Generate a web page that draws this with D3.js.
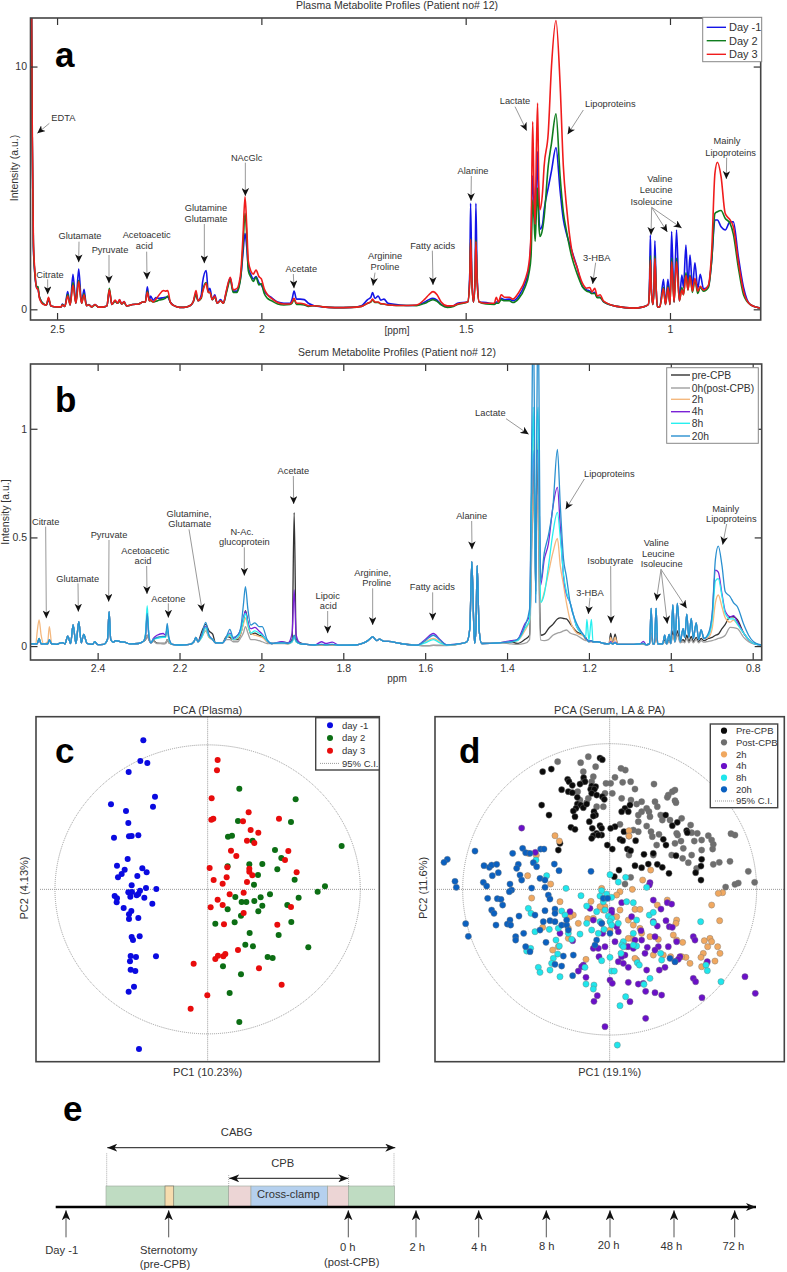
<!DOCTYPE html>
<html><head><meta charset="utf-8">
<script src="https://cdn.jsdelivr.net/npm/d3@7"></script>
<style>
html,body{margin:0;padding:0;background:#fff}
svg{display:block}
text{font-family:"Liberation Sans",Arial,sans-serif;fill:#333}
</style></head><body>
<svg id="fig" width="787" height="1272"></svg>
<script>
// ---------- Panel a: plasma spectrum (ppm, a.u.) ----------
const plasmaPpm=[2.572,2.5645,2.561,2.558,2.554,2.55,2.547,2.543,2.533,2.526,
2.521,2.515,2.5,2.49,2.487,2.481,2.474,2.468,2.461,2.454,
2.447,2.44,2.434,2.428,2.422,2.415,2.407,2.399,2.385,2.378,
2.372,2.366,2.358,2.352,2.347,2.342,2.336,2.33,2.315,2.3,
2.29,2.284,2.279,2.274,2.271,2.265,2.258,2.25,2.24,2.235,
2.229,2.223,2.215,2.2,2.19,2.175,2.167,2.16,2.155,2.147,
2.144,2.135,2.13,2.126,2.12,2.114,2.108,2.1,2.093,2.086,
2.076,2.069,2.06,2.055,2.05,2.045,2.04,2.036,2.032,2.025,
2.02,2.013,2.006,2,1.993,1.985,1.975,1.96,1.945,1.93,
1.925,1.92,1.914,1.905,1.895,1.885,1.87,1.85,1.82,1.78,
1.755,1.74,1.732,1.728,1.722,1.714,1.708,1.7,1.69,1.67,
1.64,1.62,1.6,1.59,1.58,1.57,1.56,1.545,1.53,1.52,
1.495,1.49,1.488,1.485,1.481,1.477,1.475,1.472,1.467,1.45,
1.43,1.425,1.42,1.413,1.405,1.393,1.385,1.37,1.355,1.345,
1.34,1.336,1.333,1.33,1.327,1.324,1.321,1.318,1.312,1.308,
1.298,1.29,1.279,1.269,1.261,1.253,1.241,1.228,1.214,1.204,
1.196,1.191,1.184,1.178,1.171,1.163,1.13,1.09,1.065,1.053,
1.05,1.048,1.046,1.042,1.039,1.037,1.034,1.031,1.025,1.016,
1.011,1.005,1,.996,.99,.984,.977,.971,.967,.961,
.956,.951,.945,.939,.932,.926,.918,.906,.898,.89,
.884,.875,.865,.853,.845,.833,.82,.804,.78];
const plasmaDayM1=[40,20,7.5,2.6,1.4,.9,.85,.5,.22,.18,
.4,.14,.1,.1,.22,.12,.73,.18,1.44,.25,
1.66,.25,.82,.15,.2,.1,.2,.09,.1,.14,
.75,.2,.35,.25,.38,.22,.32,.14,.2,.22,
.3,.3,.93,.35,.55,.38,.48,.45,.48,.5,
.5,.3,.16,.08,.08,.15,.3,.65,.35,.6,
1.1,1.6,.75,.87,.4,.6,.25,.4,.25,.7,
1.28,.75,.75,.95,1.4,2.3,3.13,2.6,1.75,1.4,
1.25,1.35,1.1,1,.75,.6,.48,.3,.25,.25,
.4,.75,.42,.42,.4,.25,.15,.1,.07,.08,
.15,.4,.5,.69,.45,.55,.38,.42,.25,.2,
.16,.17,.3,.4,.45,.38,.2,.1,.15,.25,
.3,1.5,4.37,1.5,.3,1.5,4.37,1.4,.3,.28,
.22,.3,.3,.45,.4,.42,.35,.55,1.05,1.7,
3,5.5,4.5,3.5,5,6.5,4,3.3,3.5,4.1,
5,5.7,6.66,4.9,3.7,3.1,2.45,1.76,.93,.8,
.75,.65,.7,.5,.5,.32,.12,.05,.1,.2,
1.2,3.06,1.2,.2,1,2.82,1,.1,.1,1.24,
.2,1.24,.2,3.2,.3,3.27,.35,1.41,.9,2.65,
.95,2.24,.9,1.92,.85,1.44,.85,.95,2,3.68,
3.68,3.4,3.27,3.6,3.6,2.2,.9,.2,.05];
const plasmaDay2=[40,20,7.5,2.7,1.4,.95,.93,.5,.22,.18,
.45,.14,.1,.1,.2,.12,.62,.18,1.1,.25,
1.2,.25,.65,.15,.18,.1,.18,.09,.1,.14,
.87,.2,.32,.25,.33,.22,.28,.14,.2,.22,
.3,.3,.75,.35,.35,.3,.33,.38,.42,.45,
.55,.3,.16,.08,.08,.15,.3,.6,.35,.45,
.75,1.1,.7,.7,.4,.5,.25,.35,.25,.65,
1.2,.7,.7,.9,1.4,2.6,3.96,3.1,1.6,1.3,
1.15,1.32,1,1.05,.65,.45,.35,.22,.18,.2,
.25,.4,.2,.2,.18,.12,.15,.1,.07,.08,
.12,.25,.3,.38,.28,.28,.22,.22,.18,.16,
.16,.15,.25,.33,.4,.33,.18,.08,.12,.2,
.3,1.2,2.9,1.2,.3,1.2,2.85,1.2,.3,.22,
.2,.25,.25,.4,.35,.35,.28,.45,.9,1.5,
2.2,4.5,3.8,2.8,4,5,3.5,3,3.3,3.8,
5.9,6.84,8.05,5.5,4,3.2,2.2,1.5,.93,.75,
.7,.65,.65,.48,.48,.32,.12,.05,.1,.2,
.9,2.2,.9,.2,.9,2.2,.9,.1,.1,.9,
.2,.95,.2,2.1,.3,2.1,.35,.9,.6,1.5,
.8,1.4,.7,1.2,.65,.9,.75,.9,2,3.95,
4.02,4.07,3.75,3.54,3.1,1.75,.6,.2,.05];
const plasmaDay3=[40,20,8,2.9,1.5,.85,.85,.45,.2,.18,
.5,.14,.1,.1,.18,.12,.55,.18,1,.25,
1.14,.25,.6,.15,.18,.1,.2,.09,.1,.14,
.8,.2,.38,.25,.4,.22,.32,.14,.2,.22,
.3,.3,.7,.35,.4,.3,.42,.6,.77,.75,
.77,.3,.16,.08,.08,.15,.3,.77,.35,.5,
.7,1.07,.7,.7,.4,.55,.25,.35,.25,.75,
1.32,.8,.85,1.05,1.6,3,4.64,3.5,2,1.55,
1.45,1.62,1.35,1.25,.85,.6,.45,.28,.22,.22,
.3,.45,.25,.25,.22,.15,.15,.1,.07,.08,
.12,.25,.32,.42,.3,.3,.24,.22,.18,.16,
.16,.18,.42,.6,.73,.6,.3,.14,.15,.22,
.3,1.2,2.88,1.2,.3,1.2,2.79,1.2,.3,.25,
.25,.5,.3,.6,.5,.5,.42,.7,1.2,1.9,
3.2,7.73,5,3.5,6.5,8.5,5,4.1,4.8,5.9,
7.25,10,11.9,9.3,5.9,4.2,2.5,1.76,1.07,.87,
.9,.72,.87,.55,.6,.35,.12,.05,.1,.2,
.9,2.03,.9,.2,.9,2.1,.9,.1,.1,.85,
.2,.9,.2,1.96,.3,1.96,.35,.8,.6,1.4,
.8,1.35,.75,1.28,.75,.95,.8,1,2.4,5.6,
6.06,5.47,3.96,3.68,3.4,2,.75,.2,.05];
const plasmaLabels=["Day -1","Day 2","Day 3"];
const plasmaColors=["#1414e6","#0f7d1e","#f01c1c"];

// ---------- Panel b: serum spectrum (ppm, a.u.) ----------
const serumPpm=[2.57,2.551,2.548,2.543,2.538,2.532,2.522,2.518,2.512,2.5,
2.494,2.486,2.48,2.473,2.466,2.46,2.453,2.446,2.44,2.434,
2.426,2.413,2.407,2.4,2.385,2.376,2.372,2.368,2.362,2.356,
2.345,2.335,2.32,2.3,2.288,2.283,2.279,2.275,2.27,2.264,
2.255,2.24,2.234,2.23,2.226,2.218,2.2,2.175,2.165,2.16,
2.155,2.146,2.136,2.128,2.119,2.112,2.095,2.085,2.077,2.069,
2.058,2.05,2.044,2.039,2.033,2.026,2.016,2.006,1.998,1.986,
1.975,1.95,1.935,1.925,1.92,1.915,1.905,1.89,1.87,1.853,
1.843,1.827,1.81,1.77,1.75,1.74,1.728,1.718,1.712,1.7,
1.69,1.66,1.62,1.6,1.58,1.564,1.548,1.51,1.498,1.491,
1.486,1.481,1.479,1.476,1.473,1.468,1.462,1.42,1.39,1.375,
1.357,1.345,1.34,1.336,1.333,1.33,1.327,1.324,1.321,1.318,
1.309,1.299,1.288,1.277,1.27,1.262,1.255,1.246,1.23,1.213,
1.208,1.205,1.2,1.194,1.19,1.18,1.163,1.151,1.147,1.142,
1.136,1.13,1.09,1.075,1.067,1.06,1.052,1.048,1.044,1.04,
1.036,1.032,1.02,1.015,1.01,1.004,1,.995,.99,.984,
.977,.97,.966,.961,.956,.95,.945,.938,.932,.926,
.919,.908,.899,.891,.884,.875,.867,.855,.847,.837,
.822,.81,.798,.78];
const serumPre=[.01,.01,.01,.035,.01,.01,.01,.028,.01,.008,
.012,.016,.01,.046,.012,.097,.012,.112,.015,.054,
.012,.008,.02,.007,.008,.03,.158,.03,.018,.025,
.02,.018,.01,.012,.022,.03,.05,.03,.015,.025,
.014,.012,.013,.03,.015,.008,.005,.008,.02,.04,
.02,.065,.1,.07,.055,.015,.015,.045,.04,.03,
.03,.06,.11,.163,.11,.055,.06,.05,.045,.02,
.012,.018,.015,.03,.614,.03,.015,.008,.005,.005,
.004,.005,.004,.005,.015,.025,.042,.025,.032,.022,
.022,.012,.004,.002,.003,.003,.003,.012,.02,.08,
.388,.08,.013,.08,.37,.07,.012,.015,.02,.012,
.03,.05,.5,.9,.6,.38,.7,.9,.3,.05,
.055,.08,.1,.125,.13,.127,.125,.104,.066,.05,
.04,.03,.025,.025,.02,.02,.012,.01,.058,.01,
.055,.008,.008,.01,.01,.006,.01,.06,.01,.01,
.06,.01,.01,.03,.01,.03,.012,.07,.02,.07,
.02,.03,.02,.05,.02,.045,.02,.04,.02,.035,
.025,.035,.04,.05,.055,.08,.1,.135,.135,.12,
.06,.03,.012,.005];
const serumPost=[.01,.01,.01,.03,.01,.01,.01,.025,.01,.008,
.012,.016,.01,.046,.012,.097,.012,.112,.015,.054,
.012,.008,.02,.007,.008,.03,.158,.03,.018,.025,
.02,.018,.01,.012,.022,.03,.05,.03,.015,.022,
.012,.012,.012,.03,.015,.008,.005,.008,.02,.04,
.02,.04,.07,.04,.03,.015,.015,.03,.03,.02,
.02,.04,.06,.09,.06,.03,.03,.025,.02,.012,
.012,.012,.01,.02,.04,.02,.01,.008,.005,.004,
.004,.004,.004,.005,.015,.025,.042,.025,.032,.022,
.022,.012,.004,.002,.003,.002,.002,.012,.02,.08,
.388,.08,.013,.08,.37,.07,.012,.015,.01,.008,
.012,.03,.4,.7,.55,.3,.6,.7,.2,.028,
.025,.03,.05,.06,.063,.07,.074,.06,.05,.03,
.025,.025,.02,.02,.02,.02,.012,.01,.015,.01,
.015,.008,.008,.01,.008,.006,.01,.06,.01,.01,
.06,.01,.01,.02,.01,.02,.012,.05,.02,.05,
.015,.02,.015,.035,.015,.03,.015,.03,.015,.025,
.018,.022,.025,.03,.035,.04,.05,.086,.085,.08,
.04,.02,.01,.005];
const serum2h=[.01,.01,.06,.12,.05,.01,.02,.09,.01,.008,
.012,.016,.01,.046,.012,.097,.012,.112,.015,.054,
.012,.008,.02,.007,.008,.03,.158,.03,.018,.025,
.02,.018,.01,.012,.022,.05,.14,.05,.015,.03,
.038,.045,.04,.075,.03,.008,.005,.008,.02,.04,
.02,.04,.08,.04,.028,.015,.015,.04,.05,.03,
.035,.06,.1,.13,.09,.06,.05,.045,.04,.02,
.012,.015,.01,.02,.04,.02,.01,.008,.005,.006,
.006,.006,.004,.005,.015,.025,.042,.025,.032,.022,
.022,.012,.004,.02,.035,.02,.005,.012,.02,.08,
.388,.08,.013,.08,.37,.07,.012,.015,.02,.025,
.07,.12,.6,.95,.7,.25,.8,.95,.5,.2,
.25,.335,.43,.495,.37,.28,.2,.12,.06,.045,
.03,.03,.02,.025,.02,.02,.012,.01,.04,.01,
.04,.008,.008,.01,.012,.006,.01,.174,.01,.01,
.174,.01,.01,.05,.01,.054,.012,.19,.02,.196,
.02,.08,.04,.147,.04,.127,.035,.107,.03,.074,
.035,.04,.08,.2,.235,.18,.13,.11,.12,.1,
.06,.03,.012,.005];
const serum4h=[.01,.01,.01,.03,.01,.01,.01,.028,.01,.008,
.012,.016,.01,.046,.012,.097,.012,.112,.015,.054,
.012,.008,.02,.007,.008,.03,.158,.03,.018,.025,
.02,.018,.01,.012,.022,.05,.15,.05,.015,.035,
.05,.058,.05,.08,.035,.008,.005,.008,.02,.04,
.02,.05,.09,.05,.03,.015,.015,.04,.06,.035,
.05,.08,.13,.16,.11,.08,.086,.07,.055,.025,
.012,.02,.015,.06,.258,.05,.012,.008,.005,.02,
.012,.018,.004,.005,.015,.025,.042,.025,.032,.022,
.022,.012,.004,.03,.058,.03,.006,.012,.02,.08,
.388,.08,.013,.08,.37,.07,.012,.015,.025,.03,
.1,.14,.7,.9,.7,.25,.9,.9,.6,.28,
.4,.47,.64,.73,.55,.32,.24,.2,.09,.05,
.035,.03,.025,.025,.02,.02,.012,.01,.02,.01,
.018,.008,.008,.01,.022,.006,.01,.174,.01,.01,
.174,.01,.01,.05,.01,.054,.012,.19,.02,.196,
.02,.08,.04,.147,.04,.127,.035,.107,.03,.074,
.035,.05,.14,.35,.34,.24,.16,.135,.14,.11,
.06,.03,.012,.005];
const serum8h=[.01,.01,.01,.035,.01,.01,.01,.028,.01,.008,
.012,.016,.01,.046,.012,.097,.012,.112,.015,.054,
.012,.008,.02,.007,.008,.03,.158,.03,.018,.025,
.02,.018,.01,.012,.022,.06,.186,.06,.015,.03,
.035,.04,.04,.09,.03,.008,.005,.008,.02,.04,
.02,.04,.085,.045,.03,.015,.015,.04,.055,.03,
.04,.07,.12,.15,.1,.06,.07,.06,.05,.025,
.012,.015,.012,.02,.04,.02,.01,.008,.005,.008,
.006,.008,.004,.005,.015,.025,.042,.025,.032,.022,
.022,.012,.004,.015,.03,.015,.005,.012,.02,.08,
.388,.08,.013,.08,.37,.07,.012,.015,.02,.025,
.08,.12,.7,1.1,.7,.24,1,1.1,.6,.2,
.24,.365,.52,.615,.5,.33,.25,.2,.09,.05,
.04,.123,.025,.123,.02,.02,.012,.01,.015,.01,
.015,.008,.008,.01,.012,.006,.01,.174,.01,.01,
.174,.01,.01,.05,.01,.054,.012,.19,.02,.196,
.02,.08,.04,.147,.04,.127,.035,.107,.03,.074,
.035,.05,.12,.3,.31,.23,.15,.125,.125,.1,
.06,.03,.012,.005];
const serum20h=[.01,.01,.01,.035,.01,.01,.01,.028,.01,.008,
.012,.016,.01,.046,.012,.097,.012,.112,.015,.054,
.012,.008,.02,.007,.008,.03,.158,.03,.018,.025,
.02,.018,.01,.012,.022,.05,.15,.05,.015,.03,
.04,.045,.045,.104,.04,.008,.005,.008,.02,.04,
.02,.05,.109,.05,.03,.015,.015,.045,.077,.04,
.05,.09,.19,.273,.17,.097,.107,.09,.09,.03,
.012,.015,.012,.025,.05,.025,.01,.008,.005,.008,
.006,.008,.004,.005,.015,.025,.042,.025,.032,.022,
.022,.012,.004,.025,.05,.028,.006,.012,.02,.08,
.388,.08,.013,.08,.37,.07,.012,.015,.02,.03,
.09,.17,.9,1.6,1,.2,1.1,1.6,.9,.3,
.43,.51,.64,.905,.65,.4,.32,.2,.104,.05,
.035,.03,.02,.025,.02,.02,.012,.01,.015,.01,
.015,.008,.008,.01,.012,.006,.01,.174,.01,.01,
.174,.01,.01,.05,.01,.054,.012,.19,.02,.196,
.02,.08,.04,.147,.04,.127,.035,.107,.03,.074,
.035,.06,.15,.4,.46,.37,.25,.227,.2,.18,
.1,.05,.02,.005];
const serumLabels=["pre-CPB","0h(post-CPB)","2h","4h","8h","20h"];
const serumColors=["#333333","#a0a0a0","#f4b87e","#7a22d6","#28efef","#2a90d0"];

// ---------- Panel c: PCA scores (arbitrary score units) ----------
const pcaDayM1=[[370,181],[361,243],[382,249],[326,276],[405,350],[273,373],[399,380],[318,393],[325,429],[282,473],[327,469],[335,468],[355,466],[323,537],[291,557],[314,569],[367,565],[380,577],[352,588],[305,582],[294,592],[335,616],[409,627],[378,624],[360,632],[325,637],[336,636],[355,642],[350,646],[284,648],[291,655],[331,650],[373,653],[290,667],[397,671],[311,684],[334,693],[327,703],[327,717],[355,714],[335,771],[359,769],[339,780],[332,828],[348,831],[408,829],[330,844],[332,869],[346,873],[342,920],[326,935],[357,1107]];
const pcaDay2=[[658,326],[827,358],[654,423],[813,426],[624,470],[636,467],[698,482],[965,498],[765,510],[784,534],[623,559],[688,553],[727,552],[772,568],[714,585],[824,599],[702,614],[915,619],[893,635],[750,643],[722,652],[836,653],[646,651],[665,666],[679,666],[703,663],[727,677],[802,675],[623,688],[715,694],[663,707],[644,727],[586,731],[814,726],[689,759],[776,765],[676,794],[699,799],[865,802],[743,831],[758,834],[609,859],[663,883],[629,939],[658,1026]];
const pcaDay3=[[593,240],[591,271],[575,355],[686,397],[777,416],[574,419],[580,416],[669,424],[692,450],[715,458],[681,482],[703,489],[633,512],[649,528],[805,513],[795,540],[569,564],[622,562],[688,566],[688,575],[830,577],[697,586],[581,600],[620,592],[608,611],[681,606],[629,643],[671,638],[593,659],[608,675],[572,682],[813,681],[671,699],[612,733],[772,734],[654,810],[616,822],[594,827],[610,829],[586,837],[521,851],[717,865],[785,914],[562,946],[512,986]];
const plasmaPcaLabels=["day -1","day  2","day  3"];
const plasmaPcaColors=["#0a0ae0","#0c6e14","#e80c0c"];

// ---------- Panel d: PCA scores (arbitrary score units) ----------
const pcaPre=[[368,275],[394,267],[540,234],[547,239],[443,298],[447,305],[425,329],[457,316],[445,335],[491,293],[495,305],[480,312],[515,318],[527,320],[512,328],[523,328],[515,340],[457,338],[472,352],[530,345],[547,350],[553,358],[365,375],[387,405],[472,372],[482,375],[490,383],[500,372],[468,385],[460,393],[465,410],[522,395],[527,405],[508,425],[520,408],[517,445],[540,437],[545,445],[453,442],[465,448],[530,460],[520,467],[545,465],[515,475],[535,465],[585,440],[572,445],[615,385],[630,375],[625,395],[605,395],[612,455],[600,478],[608,482],[647,482],[562,495],[577,507],[622,507],[632,512],[672,523],[737,405],[757,437],[772,427],[800,452],[802,458],[730,478],[738,495],[768,527],[845,538],[843,558],[827,578],[843,600],[645,557],[665,563],[685,552],[712,553],[727,562],[747,580],[597,570],[583,590],[420,490],[415,510],[700,520]];
const pcaPost=[[413,245],[482,248],[505,230],[527,260],[490,275],[603,265],[616,270],[520,290],[515,305],[490,305],[558,310],[572,310],[585,292],[608,307],[632,305],[702,312],[765,330],[757,335],[745,345],[742,352],[765,362],[768,368],[473,335],[480,360],[505,355],[500,368],[550,380],[555,340],[530,380],[577,340],[605,355],[645,327],[633,360],[650,372],[665,365],[680,385],[712,380],[705,365],[687,395],[690,410],[665,395],[655,405],[722,405],[727,420],[750,420],[785,415],[812,435],[680,438],[655,425],[600,433],[640,450],[655,455],[627,468],[693,455],[717,463],[697,470],[783,483],[770,460],[773,465],[815,458],[832,460],[865,467],[875,480],[880,493],[878,507],[823,483],[845,480],[845,510],[765,490],[790,505],[755,525],[815,525],[788,535],[805,548],[710,495],[700,525],[627,525],[880,553],[898,547],[930,544],[933,461],[945,465],[985,574],[1004,607],[955,609],[945,613],[917,621],[632,592],[615,612],[830,565]];
const pca2h=[[405,467],[418,483],[627,452],[627,468],[325,520],[349,526],[323,587],[392,612],[692,570],[668,600],[637,628],[600,635],[590,645],[545,625],[908,638],[895,640],[875,675],[899,722],[335,654],[420,665],[513,664],[555,680],[645,688],[660,688],[742,660],[712,675],[770,720],[768,730],[503,716],[520,715],[460,705],[450,710],[445,745],[475,730],[368,742],[445,775],[590,710],[600,690],[660,745],[665,760],[635,775],[625,775],[690,770],[715,778],[760,765],[770,780],[788,787],[625,720],[640,735],[853,782],[870,775],[875,785],[863,800],[893,800],[900,820],[850,820],[843,832],[885,843],[860,850],[845,860],[810,850],[798,832],[785,830],[752,830],[730,825],[700,825],[650,840],[645,835],[498,838],[398,810],[415,800],[550,690],[540,680],[570,750],[620,800],[610,790]];
const pca4h=[[305,444],[346,517],[690,608],[688,615],[700,660],[742,668],[755,672],[723,687],[575,690],[575,698],[510,685],[450,695],[605,668],[635,710],[700,725],[712,738],[738,722],[748,740],[757,742],[663,752],[665,780],[645,780],[520,720],[545,730],[548,760],[420,760],[458,782],[590,740],[595,755],[820,770],[825,780],[770,785],[705,770],[745,800],[715,800],[705,810],[682,802],[675,820],[625,800],[615,825],[605,830],[595,845],[610,850],[625,862],[680,870],[735,862],[718,870],[780,830],[775,838],[765,845],[862,845],[520,805],[535,805],[555,800],[537,830],[490,855],[485,860],[475,873],[498,892],[570,900],[577,910],[625,907],[655,912],[670,910],[820,895],[827,905],[975,890],[1006,940],[846,953],[725,945],[705,938],[677,934],[532,947],[522,964],[630,965],[677,1015],[555,1040],[585,785],[640,805]];
const pca8h=[[348,540],[380,587],[570,584],[595,606],[617,592],[438,625],[483,647],[545,632],[540,648],[550,665],[560,642],[575,652],[680,622],[620,665],[640,668],[325,685],[333,700],[425,693],[435,705],[500,678],[530,695],[555,690],[565,708],[575,715],[570,725],[575,735],[500,730],[540,725],[515,750],[552,748],[480,762],[595,730],[688,705],[700,697],[700,728],[650,720],[640,760],[842,725],[345,755],[388,748],[415,745],[445,760],[455,778],[535,760],[610,785],[605,795],[650,798],[640,795],[610,800],[603,820],[408,780],[418,798],[413,822],[400,835],[320,813],[332,805],[395,850],[570,832],[545,842],[652,848],[722,820],[725,840],[658,855],[858,855],[862,872],[903,905],[355,862],[360,877],[390,870],[420,890],[495,862],[575,873],[583,873],[690,895],[672,913],[498,912],[522,915],[520,927],[617,950],[600,977],[592,1095]];
const pca20h=[[82,538],[72,547],[165,513],[105,604],[109,622],[192,557],[208,562],[215,555],[230,553],[295,553],[290,565],[235,578],[217,587],[278,520],[308,505],[317,518],[362,507],[372,507],[330,520],[340,548],[350,560],[300,585],[305,600],[190,607],[200,618],[270,612],[275,630],[268,635],[335,624],[360,595],[375,600],[403,552],[417,572],[513,574],[375,622],[385,645],[390,657],[203,655],[232,656],[243,658],[248,675],[215,690],[222,700],[297,708],[270,720],[262,732],[272,735],[228,735],[137,731],[145,769],[287,770],[287,780],[311,760],[317,800],[330,815],[378,787],[375,692],[345,705],[405,687],[405,700],[370,725],[390,722],[405,725],[360,750],[425,735],[440,735],[445,750],[430,828],[460,825],[405,853],[425,858],[458,887],[550,655],[563,655],[545,730],[570,760],[530,780],[750,835],[765,845],[525,795],[440,720]];
const serumPcaLabels=["Pre-CPB","Post-CPB","2h","4h","8h","20h"];
const serumPcaColors=["#0a0a0a","#6e6e6e","#f0a860","#6a10c8","#1fe6ec","#0a60c0"];

// ---------- Panel e: schedule ----------
const stopLabels=[["Day -1"],["Sternotomy","(pre-CPB)"],["0 h","(post-CPB)"],["2 h"],["4 h"],["8 h"],["20 h"],["48 h"],["72 h"]];
const stopTimes=[66,168.7,348.3,416,478.7,546.3,610,674,734.7];
const phaseStarts=[106,228.7,251,327.7,348.3];
const phaseEnds=[228.7,251,327.7,348.3,394.7];
const phaseColors=["#bfdcc2","#ecd5d5","#b5d0ee","#ecd5d5","#bfdcc2"];

// ---------- Layout ----------
const svg=d3.select("#fig");
const defs=svg.append("defs");
function head(id,fill,w,h){
  defs.append("marker").attr("id",id).attr("markerUnits","userSpaceOnUse")
   .attr("markerWidth",w).attr("markerHeight",h).attr("refX",w).attr("refY",h/2)
   .attr("orient","auto-start-reverse").attr("viewBox",`0 0 ${w} ${h}`)
   .append("path").attr("d",`M0,0 L${w},${h/2} L0,${h} L${w*.28},${h/2} Z`).attr("fill",fill);
}
head("ah","#111",8,7.5);
head("ahBig","#111",10,8);
head("ahUp","#111",10,8.5);

function panelLetter(t,x,y){svg.append("text").attr("x",x).attr("y",y).attr("font-size",35).attr("font-weight",700).style("fill","#000").text(t);}

function spectrum(o){
  const x=d3.scaleLinear().domain(o.xDomain).range([o.l,o.r]);
  const y=d3.scaleLinear().domain(o.yDomain).range([o.b,o.t]);
  const g=svg.append("g");
  const cid="clip"+o.id;
  defs.append("clipPath").attr("id",cid).append("rect").attr("x",o.l).attr("y",o.t).attr("width",o.r-o.l).attr("height",o.b-o.t);
  const line=d3.line().x((d,i)=>x(o.ppm[i])).y(d=>y(d)).curve(d3.curveMonotoneX);
  const pl=g.append("g").attr("clip-path",`url(#${cid})`);
  o.series.forEach((s,i)=>pl.append("path").attr("d",line(s)).attr("fill","none").attr("stroke",o.colors[i]).attr("stroke-width",o.sw).attr("stroke-linejoin","round"));
  const fmt=d=>String(d);
  const styleAxis=a=>{a.select(".domain").remove();a.selectAll("line").attr("stroke","#333").attr("stroke-width",1.2);a.selectAll("text").attr("font-size",10.5).style("fill","#333");};
  g.append("g").attr("transform",`translate(0,${o.b})`).call(d3.axisBottom(x).tickValues(o.xTicks).tickSize(-7).tickPadding(o.pad).tickFormat(fmt)).call(styleAxis);
  g.append("g").attr("transform",`translate(0,${o.t})`).call(d3.axisTop(x).tickValues(o.xTicks).tickSize(-7).tickFormat("")).call(styleAxis);
  g.append("g").attr("transform",`translate(${o.l},0)`).call(d3.axisLeft(y).tickValues(o.yTicks).tickSize(-7).tickPadding(3.5).tickFormat(fmt)).call(styleAxis);
  g.append("g").attr("transform",`translate(${o.r},0)`).call(d3.axisRight(y).tickValues(o.yTicks).tickSize(-7).tickFormat("")).call(styleAxis);
  g.append("rect").attr("x",o.l).attr("y",o.t).attr("width",o.r-o.l).attr("height",o.b-o.t).attr("fill","none").attr("stroke","#444").attr("stroke-width",1.6);
  svg.append("text").attr("x",397).attr("y",o.titleY).attr("text-anchor","middle").attr("font-size",10.5).text(o.title);
  svg.append("text").attr("x",397).attr("y",o.xLabY).attr("text-anchor","middle").attr("font-size",10).text(o.xLab);
  svg.append("text").attr("transform",`translate(${o.yLabX},${o.yLabY}) rotate(-90)`).attr("text-anchor","middle").attr("font-size",10.5).text(o.yLab);
}

function notes(ox,oy,list,fs){
  const g=svg.append("g");
  list.forEach(n=>{
    n.text.forEach(t=>g.append("text").attr("x",ox+t[1]/3).attr("y",oy+t[2]/3).attr("dy",".35em")
      .attr("text-anchor",t[3]||"middle").attr("font-size",fs).text(t[0]));
    n.arrows.forEach(a=>g.append("line").attr("x1",ox+a[0]/3).attr("y1",oy+a[1]/3).attr("x2",ox+a[2]/3).attr("y2",oy+a[3]/3)
      .attr("stroke","#999").attr("stroke-width",1).attr("marker-end","url(#ah)"));
  });
}

function lineLegend(o){
  const g=svg.append("g");
  g.append("rect").attr("x",o.x0).attr("y",o.y0).attr("width",o.x1-o.x0).attr("height",o.y1-o.y0).attr("fill","#fff").attr("stroke","#888").attr("stroke-width",1);
  o.labels.forEach((l,i)=>{
    g.append("line").attr("x1",o.lx0).attr("x2",o.lx1).attr("y1",o.ys[i]).attr("y2",o.ys[i]).attr("stroke",o.colors[i]).attr("stroke-width",1.4);
    g.append("text").attr("x",o.tx).attr("y",o.ys[i]).attr("dy",".35em").attr("font-size",o.fs).text(l);
  });
}

// panel a
spectrum({id:"a",l:30.5,r:760.7,t:18,b:320,xDomain:[2.565,.778],yDomain:[-.44,12],ppm:plasmaPpm,
  series:[plasmaDayM1,plasmaDay2,plasmaDay3],colors:plasmaColors,sw:1.6,
  xTicks:[2.5,2,1.5,1],yTicks:[0,10],pad:5.5,title:"Plasma Metabolite Profiles (Patient no# 12)",titleY:9,
  xLab:"[ppm]",xLabY:334,yLab:"Intensity (a.u.)",yLabX:18,yLabY:168});
panelLetter("a",55,67);
notes(0,0,[
 {text:[["EDTA",190,354]],arrows:[[148,370,112,400]]},
 {text:[["Citrate",150,823]],arrows:[[143,838,143,883]]},
 {text:[["Glutamate",240,708]],arrows:[[237,725,236,787]]},
 {text:[["Pyruvate",330,750]],arrows:[[327,765,327,850]]},
 {text:[["Acetoacetic",440,704],["acid",433,738]],arrows:[[440,755,441,838]]},
 {text:[["Glutamine",618,622],["Glutamate",618,657]],arrows:[[613,672,613,790]]},
 {text:[["NAcGlc",740,472]],arrows:[[736,488,736,588]]},
 {text:[["Acetate",904,806]],arrows:[[880,822,882,865]]},
 {text:[["Arginine",1155,766],["Proline",1155,800]],arrows:[[1125,818,1119,857]]}
],9.3);
notes(400,0,[
 {text:[["Fatty acids",98,736]],arrows:[[97,752,99,855]]},
 {text:[["Alanine",219,513]],arrows:[[214,528,213,603]]},
 {text:[["Lactate",345,302]],arrows:[[345,320,380,392]]},
 {text:[["Lipoproteins",631,312]],arrows:[[550,330,503,403]]},
 {text:[["3-HBA",590,772]],arrows:[[587,788,578,852]]},
 {text:[["Valine",817,535,"end"],["Leucine",817,570,"end"],["Isoleucine",817,605,"end"]],arrows:[[755,622,753,705],[755,622,802,696],[755,622,845,684]]},
 {text:[["Mainly",981,423],["Lipoproteins",992,458]],arrows:[[980,473,979,537]]}
],9.3);
lineLegend({x0:702.7,x1:761.7,y0:17.3,y1:61.7,lx0:706.7,lx1:726,tx:729,fs:11,ys:[27.3,40.7,54.3],labels:plasmaLabels,colors:plasmaColors});

// panel b
spectrum({id:"b",l:30.5,r:761.7,t:364,b:660,xDomain:[2.564,.778],yDomain:[-.064,1.298],ppm:serumPpm,
  series:[serumPre,serumPost,serum2h,serum4h,serum8h,serum20h],colors:serumColors,sw:1.3,
  xTicks:[2.4,2.2,2,1.8,1.6,1.4,1.2,1,.8],yTicks:[0,.5,1],pad:5,title:"Serum Metabolite Profiles (Patient no# 12)",titleY:356,
  xLab:"ppm",xLabY:682,yLab:"Intensity [a.u.]",yLabX:9,yLabY:512});
panelLetter("b",55,412);
notes(0,340,[
 {text:[["Citrate",137,545]],arrows:[[137,560,139,835]]},
 {text:[["Glutamate",233,715]],arrows:[[234,730,235,815]]},
 {text:[["Pyruvate",327,585]],arrows:[[327,600,326,785]]},
 {text:[["Acetoacetic",436,632],["acid",429,662]],arrows:[[440,678,441,762]]},
 {text:[["Acetone",505,775]],arrows:[[505,790,505,833]]},
 {text:[["Glutamine,",567,520],["Glutamate",569,552]],arrows:[[567,568,607,815]]},
 {text:[["N-Ac.",726,575],["glucoprotein",733,606]],arrows:[[733,622,733,707]]},
 {text:[["Acetate",880,392]],arrows:[[880,408,881,492]]},
 {text:[["Lipoic",983,766],["acid",985,797]],arrows:[[983,813,983,880]]},
 {text:[["Arginine,",1118,698],["Proline",1130,729]],arrows:[[1118,745,1118,855]]}
],9.3);
notes(400,340,[
 {text:[["Fatty acids",97,741]],arrows:[[98,757,98,841]]},
 {text:[["Alanine",215,527]],arrows:[[215,543,216,628]]},
 {text:[["Lactate",271,219]],arrows:[[318,236,386,283]]},
 {text:[["Lipoproteins",628,400]],arrows:[[553,417,497,508]]},
 {text:[["3-HBA",570,758]],arrows:[[570,773,565,822]]},
 {text:[["Isobutyrate",631,663]],arrows:[[632,678,633,850]]},
 {text:[["Valine",769,608],["Leucine",775,640],["Isoleucine",785,670]],arrows:[[783,688,769,782],[783,688,802,851],[783,688,860,805]]},
 {text:[["Mainly",977,505],["Lipoproteins",994,536]],arrows:[[980,552,968,614]]}
],9.3);
lineLegend({x0:666.7,x1:758.3,y0:367.7,y1:443.3,lx0:671,lx1:690,tx:691.7,fs:10.3,ys:[375,388,399.3,411.7,423.3,436],labels:serumLabels,colors:serumColors});

// PCA panels
function pca(o){
  const x=d3.scaleLinear().domain(o.xd).range([o.l,o.r]);
  const y=d3.scaleLinear().domain(o.yd).range([o.b,o.t]);
  const g=svg.append("g");
  const dotted={stroke:"#999","stroke-width":1,"stroke-dasharray":"1 1",fill:"none"};
  const ap=(s,a)=>{Object.entries(a).forEach(([k,v])=>s.attr(k,v));return s;};
  g.append("rect").attr("x",o.l).attr("y",o.t).attr("width",o.r-o.l).attr("height",o.b-o.t).attr("fill","#fff");
  ap(g.append("ellipse").attr("cx",x(o.cx)).attr("cy",y(o.cy)).attr("rx",x(o.cx+o.rx)-x(o.cx)).attr("ry",y(o.cy)-y(o.cy-o.ry)),dotted);
  ap(g.append("line").attr("x1",x(o.hx[0])).attr("x2",x(o.hx[1])).attr("y1",y(o.cy)).attr("y2",y(o.cy)),dotted);
  ap(g.append("line").attr("x1",x(o.cx)).attr("x2",x(o.cx)).attr("y1",o.t).attr("y2",o.b),dotted);
  o.groups.forEach((pts,i)=>{
    g.append("g").selectAll("circle").data(pts).join("circle")
     .attr("cx",d=>x(d[0])).attr("cy",d=>y(d[1])).attr("r",o.rad).attr("fill",o.colors[o.order?o.order[i]:i])
     .attr("stroke",o.edge).attr("stroke-width",.4);
  });
  g.append("rect").attr("x",o.l).attr("y",o.t).attr("width",o.r-o.l).attr("height",o.b-o.t).attr("fill","none").attr("stroke","#444").attr("stroke-width",1.6);
  const lg=o.legend;
  g.append("rect").attr("x",lg.x0).attr("y",lg.y0).attr("width",lg.x1-lg.x0).attr("height",lg.y1-lg.y0).attr("fill","#fff").attr("stroke","#444").attr("stroke-width",1.4);
  lg.labels.forEach((l,i)=>{
    g.append("circle").attr("cx",lg.dx).attr("cy",lg.ys[i]).attr("r",o.rad).attr("fill",o.colors[i]);
    g.append("text").attr("x",lg.tx).attr("y",lg.ys[i]).attr("dy",".35em").attr("font-size",lg.fs).text(l);
  });
  const cy=lg.ys[lg.ys.length-1]+lg.step;
  ap(g.append("line").attr("x1",lg.lx0).attr("x2",lg.lx1).attr("y1",cy).attr("y2",cy),dotted);
  g.append("text").attr("x",lg.tx).attr("y",cy).attr("dy",".35em").attr("font-size",lg.fs).text("95% C.I.");
  const mx=x(o.cx);
  svg.append("text").attr("x",mx).attr("y",713.7).attr("text-anchor","middle").attr("font-size",11).text(o.title);
  svg.append("text").attr("x",mx).attr("y",1076).attr("text-anchor","middle").attr("font-size",11).text(o.xLab);
  svg.append("text").attr("transform",`translate(${o.yLabX},888) rotate(-90)`).attr("text-anchor","middle").attr("font-size",11).text(o.yLab);
}
pca({l:36,r:379.3,t:716.7,b:1061.7,xd:[48,1078],yd:[1145,110],cx:563,cy:628,rx:458,ry:433.5,hx:[60,1065],
  groups:[pcaDayM1,pcaDay2,pcaDay3],colors:plasmaPcaColors,rad:3,edge:"none",
  title:"PCA (Plasma)",xLab:"PC1 (10.23%)",yLab:"PC2 (4.13%)",yLabX:28,
  legend:{x0:315.7,x1:379.3,y0:717.7,y1:770,dx:330,tx:342,lx0:320,lx1:340,fs:9.5,ys:[725.3,738,750.7],step:12.7,labels:plasmaPcaLabels}});
panelLetter("c",55,763);
pca({l:435,r:784.3,t:716.7,b:1061.7,xd:[45,1093],yd:[1145,110],cx:569,cy:628,rx:441,ry:437,hx:[45,1093],
  groups:[pcaPost,pcaPre,pca2h,pca4h,pca8h,pca20h],order:[1,0,2,3,4,5],colors:serumPcaColors,rad:3.1,edge:"#777",
  title:"PCA (Serum, LA & PA)",xLab:"PC1 (19.1%)",yLab:"PC2 (11.6%)",yLabX:427,
  legend:{x0:710.3,x1:777.7,y0:724,y1:807.7,dx:724,tx:736,lx0:715,lx1:735,fs:9.5,ys:[730.7,742.3,754.3,766,777.7,789.3],step:11.7,labels:serumPcaLabels}});
panelLetter("d",459,763);

// panel e (schedule axis runs in page units, y positions are layout offsets)
const ex=d3.scaleLinear().domain([0,787]).range([0,787]);
const ey=v=>1090+v/3;
const eg=svg.append("g");
phaseStarts.forEach((s,i)=>eg.append("rect").attr("x",ex(s)).attr("y",ey(288)).attr("width",ex(phaseEnds[i])-ex(s)).attr("height",ey(350)-ey(288)).attr("fill",phaseColors[i]).attr("stroke","#9aa69a").attr("stroke-width",.6));
eg.append("rect").attr("x",ex(165)).attr("y",ey(288)).attr("width",ex(173.7)-ex(165)).attr("height",ey(350)-ey(288)).attr("fill","#f6dcae").attr("stroke","#7a7a6a").attr("stroke-width",.7);
const eText=(t,xv,yv)=>eg.append("text").attr("x",ex(xv)).attr("y",ey(yv)).attr("dy",".35em").attr("text-anchor","middle").attr("font-size",11.2).text(t);
eText("Cross-clamp",288.3,312);
eText("CABG",236.7,127);
eText("CPB",282.7,220);
[[106.7,190,288],[394,190,288],[228.7,255,288],[348.6,255,288]].forEach(d=>eg.append("line").attr("x1",ex(d[0])).attr("x2",ex(d[0])).attr("y1",ey(d[1])).attr("y2",ey(d[2])).attr("stroke","#999").attr("stroke-width",.8).attr("stroke-dasharray","1 1"));
[[107.3,395.3,173],[229.3,348.3,265]].forEach(d=>eg.append("line").attr("x1",ex(d[0])).attr("x2",ex(d[1])).attr("y1",ey(d[2])).attr("y2",ey(d[2])).attr("stroke","#444").attr("stroke-width",1.1).attr("marker-start","url(#ahBig)").attr("marker-end","url(#ahBig)"));
eg.append("line").attr("x1",ex(55.7)).attr("x2",ex(756)).attr("y1",ey(351)).attr("y2",ey(351)).attr("stroke","#000").attr("stroke-width",2.4).attr("marker-end","url(#ahBig)");
stopTimes.forEach(t=>{
  eg.append("line").attr("x1",ex(t)).attr("x2",ex(t)).attr("y1",ey(442)).attr("y2",ey(361)).attr("stroke","#555").attr("stroke-width",1).attr("marker-end","url(#ahUp)");
});
const stopTextX=[61.7,[168.7,165],[347.7,351.7],417.3,479,546.7,608.7,671.3,733.3];
const stopTextY=[480,[480,523],[472,517],472,472,468,466,468,468];
stopLabels.forEach((ls,i)=>ls.forEach((t,j)=>{
  const xv=Array.isArray(stopTextX[i])?stopTextX[i][j]:stopTextX[i];
  const yv=Array.isArray(stopTextY[i])?stopTextY[i][j]:stopTextY[i];
  eText(t,xv,yv);
}));
panelLetter("e",63,1120.7);
</script>
</body></html>
